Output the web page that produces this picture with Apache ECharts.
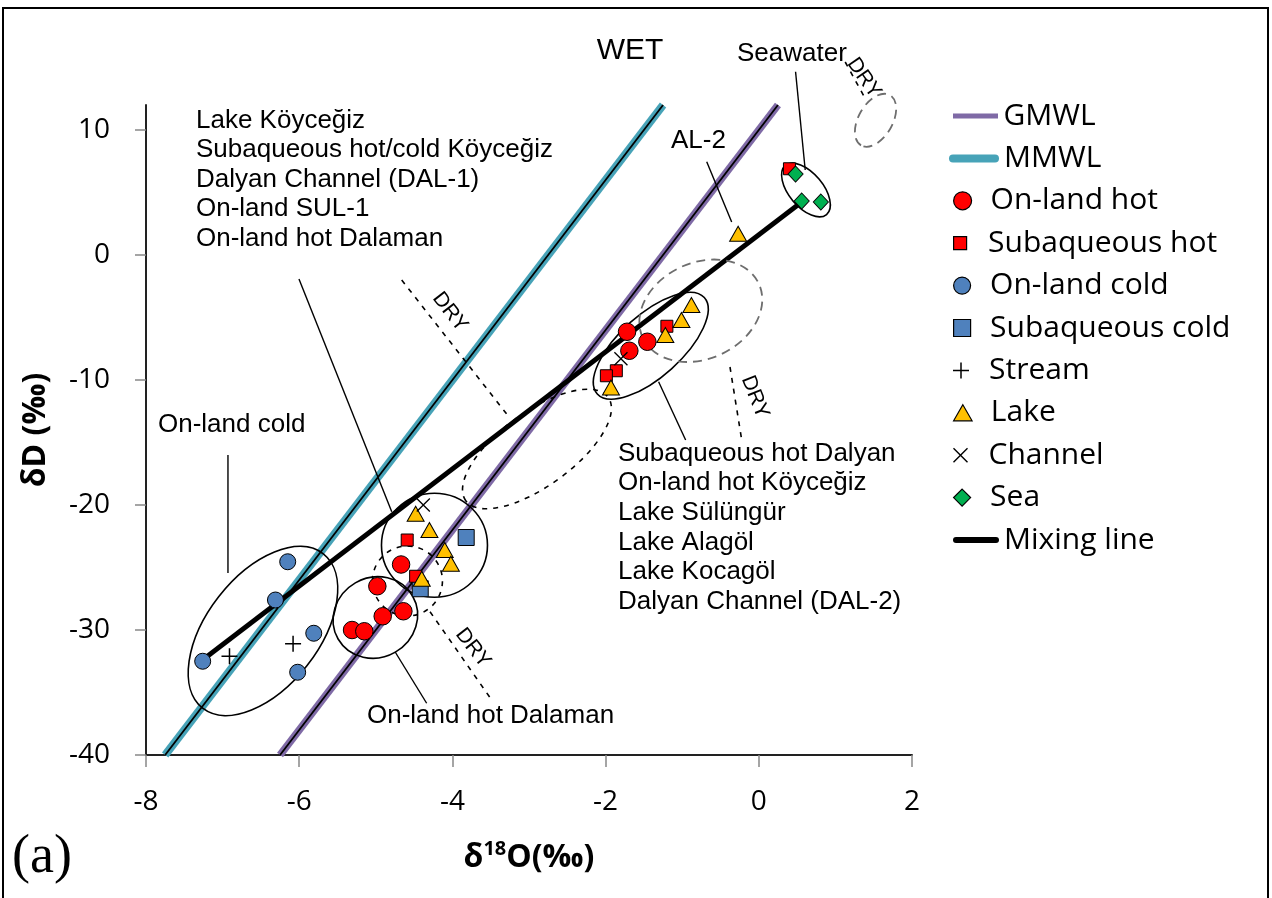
<!DOCTYPE html>
<html>
<head>
<meta charset="utf-8">
<script src="https://cdn.jsdelivr.net/npm/echarts@6/dist/echarts.min.js"></script>
<style>
  html, body { margin: 0; padding: 0; background: #fff; }
  #chart { width: 1272px; height: 898px; }
</style>
</head>
<body>
<div id="chart"></div>
<script>
// δ18O, δD (‰) of each water type
const onLandHot = [[-4.67, -24.76], [-4.98, -26.5], [-4.64, -28.5], [-4.91, -28.9], [-5.31, -30.0], [-5.15, -30.1],
                   [-1.72, -6.14], [-1.455, -6.94], [-1.69, -7.66]];
const subaqueousHot = [[-4.59, -22.8], [-4.48, -25.7], [-1.20, -5.7], [-1.86, -9.26], [-1.99, -9.66], [0.40, 6.9]];
const onLandCold = [[-6.15, -24.54], [-6.31, -27.6], [-5.81, -30.26], [-6.02, -33.38], [-7.26, -32.5]];
const subaqueousCold = [[-3.82, -22.6], [-4.42, -26.7]];
const stream = [[-6.91, -32.1], [-6.08, -31.1]];
const lake = [[-4.48, -20.7], [-4.30, -22.0], [-4.10, -23.6], [-4.02, -24.7], [-4.40, -25.9],
              [-0.88, -4.0], [-1.01, -5.2], [-1.22, -6.4], [-1.93, -10.6], [-0.27, 1.7]];
const channel = [[-4.38, -20.0], [-1.80, -8.3]];
const sea = [[0.48, 6.48], [0.56, 4.32], [0.81, 4.24]];

// Meteoric water lines (end points) and the mixing line
const gmwl = [[-6.25, -40], [0.25, 12]];    // δD = 8·δ18O + 10
const mmwl = [[-7.75, -40], [-1.25, 12]];   // δD = 8·δ18O + 22
const mixingLine = [[-7.22, -32.2], [0.53, 4.1]];

// Axis ticks
const xTicks = [-8, -6, -4, -2, 0, 2];
const yTicks = [-40, -30, -20, -10, 0, 10];

// Group outlines: centre in data units, radii in px, tilt in degrees
const groupOutlines = [
  { at: [-6.473, -30.08], rx: 98, ry: 56, tilt: 52, outline: 'solid' },
  { at: [-5.006, -29.0], rx: 43, ry: 40, tilt: 30, outline: 'solid' },
  { at: [-4.234, -23.22], rx: 53, ry: 52, tilt: 0, outline: 'solid' },
  { at: [-4.587, -26.08], rx: 35, ry: 35, tilt: 0, outline: 'dry' },
  { at: [-2.896, -15.52], rx: 88, ry: 37, tilt: 36, outline: 'dry' },
  { at: [-1.41, -7.26], rx: 72, ry: 31, tilt: 42, outline: 'solid' },
  { at: [-0.757, -4.46], rx: 64, ry: 48, tilt: 25, outline: 'drySea' },
  { at: [0.616, 5.2], rx: 32, ry: 17, tilt: -50, outline: 'solid' },
  { at: [1.524, 10.78], rx: 29, ry: 17, tilt: 60, outline: 'drySea' }
];
// Label leader lines and dry-season shift lines: [x1, y1, x2, y2] in data units
const leaderLines = [
  [-6.003, -1.92, -4.792, -20.54],
  [-6.93, -16.0, -6.93, -25.44],
  [-4.749, -31.74, -4.336, -35.86],
  [-1.308, -10.14, -0.955, -14.8],
  [-0.680, 7.46, -0.354, 2.64],
  [0.480, 14.66, 0.606, 6.8]
];
const dryLines = [
  [-4.662, -2.0, -3.248, -13.06],
  [-0.376, -8.96, -0.223, -14.8],
  [-4.292, -28.54, -3.487, -35.6],
  [1.128, 15.44, 1.40, 12.4]
];

const outlineStyles = {
  solid: { stroke: '#000', lineWidth: 1.6 },
  dry: { stroke: '#000', lineWidth: 1.6, lineDash: [5, 6] },
  drySea: { stroke: '#6e6e6e', lineWidth: 1.8, lineDash: [9, 6] }
};

const C = {
  gmwl: '#7F6AA6', mmwl: '#47A3B8', red: '#FF0000', blue: '#4F81BD',
  gold: '#FFC000', green: '#00B050', black: '#000'
};
const plusPath = 'path://M7.25,0h1.5v7.25h7.25v1.5h-7.25v7.25h-1.5v-7.25h-7.25v-1.5h7.25z';
const crossPath = 'path://M0,1.06L1.06,0L8,6.94L14.94,0L16,1.06L9.06,8L16,14.94L14.94,16L8,9.06L1.06,16L0,14.94L6.94,8Z';
const circlePath = 'path://M0,5A5,5 0 1 1 10,5A5,5 0 1 1 0,5Z';
const squarePath = 'path://M0,0H10V10H0Z';
const trianglePath = 'path://M5,0L10,8.66L0,8.66Z';
const diamondPath = 'path://M5,0L10,5L5,10L0,5Z';

const sansUI = '"Open Sans", "Noto Sans", sans-serif';
const sansText = '"Liberation Sans", Arial, sans-serif';

function markerSeries(name, data, symbol, size, color, border) {
  return {
    type: 'scatter', name, data, symbol, symbolSize: size, z: 5,
    itemStyle: { color, borderColor: '#000', borderWidth: border, opacity: 1 },
    emphasis: { disabled: true }
  };
}

function lineSeries(name, data, color, width, z) {
  return {
    type: 'line', name, data, z, symbol: 'none', silent: true, clip: true,
    lineStyle: { color, width, cap: 'butt' },
    emphasis: { disabled: true }
  };
}

function segmentSeries(name, data, style) {
  return {
    type: 'custom', name, data, z: 4, silent: true, clip: false,
    encode: { x: [0, 2], y: [1, 3] },
    renderItem(params, api) {
      const p1 = api.coord([api.value(0), api.value(1)]);
      const p2 = api.coord([api.value(2), api.value(3)]);
      return { type: 'line', shape: { x1: p1[0], y1: p1[1], x2: p2[0], y2: p2[1] }, style };
    }
  };
}

// Legend: one row per entry so each can keep its own key size
const legendRows = [
  { name: 'GMWL', icon: 'path://M0,0H45V5H0Z', w: 46, h: 5, color: C.gmwl, border: 0, left: 953 },
  { name: 'MMWL', icon: 'path://M4,0H46A4,4 0 0 1 46,8H4A4,4 0 0 1 4,0Z', w: 50, h: 8, color: C.mmwl, border: 0, left: 949 },
  { name: 'On-land hot', icon: circlePath, w: 46, h: 18, color: C.red, border: 1.2, left: 953 },
  { name: 'Subaqueous hot', icon: squarePath, w: 46, h: 13, color: C.red, border: 1.2, left: 953 },
  { name: 'On-land cold', icon: circlePath, w: 46, h: 17, color: C.blue, border: 1.2, left: 953 },
  { name: 'Subaqueous cold', icon: squarePath, w: 46, h: 17, color: C.blue, border: 1.2, left: 953 },
  { name: 'Stream', icon: plusPath, w: 46, h: 16, color: C.black, border: 0, left: 953 },
  { name: 'Lake', icon: trianglePath, w: 46, h: 16, color: C.gold, border: 1.2, left: 953 },
  { name: 'Channel', icon: crossPath, w: 46, h: 15, color: C.black, border: 0, left: 953 },
  { name: 'Sea', icon: diamondPath, w: 46, h: 17, color: C.green, border: 1.2, left: 953 },
  { name: 'Mixing line', icon: 'path://M3,0H43A3,3 0 0 1 43,6H3A3,3 0 0 1 3,0Z', w: 46, h: 6, color: C.black, border: 0, left: 953 }
];
const legendFirstRow = 116, legendStep = 42.4, legendLine = 34;

const chart = echarts.init(document.getElementById('chart'), null, { renderer: 'canvas' });

chart.setOption({
  animation: false,
  backgroundColor: '#fff',
  grid: { left: 146, right: 360, top: 105, bottom: 143, containLabel: false },
  xAxis: {
    type: 'value', min: -8, max: 2, interval: 2,
    axisLine: { show: true, onZero: false, lineStyle: { color: '#222', width: 2 } },
    axisTick: { show: true, length: 12, lineStyle: { color: '#888', width: 1.5 } },
    axisLabel: { color: '#000', fontFamily: sansUI, fontSize: 28, margin: 33,
                 customValues: xTicks },
    splitLine: { show: false },
    name: '{a|δ}{s|18}{a|O(‰)}',
    nameLocation: 'middle', nameGap: 84,
    nameTextStyle: {
      rich: {
        a: { fontFamily: sansUI, fontWeight: 'bold', fontSize: 32, lineHeight: 38, color: '#000' },
        s: { fontFamily: sansUI, fontWeight: 'bold', fontSize: 20, lineHeight: 26, color: '#000', verticalAlign: 'top' }
      }
    }
  },
  yAxis: {
    type: 'value', min: -40, max: 12,
    axisLine: { show: true, onZero: false, lineStyle: { color: '#222', width: 2 } },
    axisTick: { show: true, length: 11, lineStyle: { color: '#888', width: 1.5 }, customValues: yTicks },
    axisLabel: { color: '#000', fontFamily: sansUI, fontSize: 28, margin: 36, customValues: yTicks },
    splitLine: { show: false },
    name: 'δD (‰)', nameLocation: 'middle', nameGap: 92,
    nameTextStyle: { fontFamily: sansUI, fontWeight: 'bold', fontSize: 32, lineHeight: 36, color: '#000' }
  },
  legend: legendRows.map((r, i) => ({
    data: [{ name: r.name, icon: r.icon,
             itemStyle: { color: r.color, borderColor: '#000', borderWidth: r.border } }],
    left: r.left, top: legendFirstRow + i * legendStep - legendLine / 2,
    itemWidth: r.w, itemHeight: r.h, padding: 0,
    textStyle: { fontFamily: sansUI, fontSize: 30, color: '#000', lineHeight: legendLine }
  })),
  series: [
    lineSeries('MMWL', mmwl, C.mmwl, 8, 1),
    lineSeries('MMWL', mmwl, '#000', 1.8, 2),
    lineSeries('GMWL', gmwl, C.gmwl, 7.5, 1),
    lineSeries('GMWL', gmwl, '#000', 1.8, 2),
    lineSeries('Mixing line', mixingLine, '#000', 4.8, 3),
    {
      type: 'custom', name: 'outlines', z: 4, silent: true, clip: false,
      data: groupOutlines.map(g => g.at),
      renderItem(params, api) {
        const g = groupOutlines[params.dataIndex];
        const c = api.coord([api.value(0), api.value(1)]);
        return {
          type: 'ellipse', x: c[0], y: c[1], rotation: g.tilt * Math.PI / 180,
          shape: { cx: 0, cy: 0, rx: g.rx, ry: g.ry },
          style: Object.assign({ fill: 'none' }, outlineStyles[g.outline])
        };
      }
    },
    segmentSeries('leaders', leaderLines, { stroke: '#000', lineWidth: 1.4 }),
    segmentSeries('dry shift', dryLines, { stroke: '#000', lineWidth: 1.6, lineDash: [5, 6] }),
    markerSeries('On-land cold', onLandCold, 'circle', 16, C.blue, 1),
    markerSeries('Subaqueous cold', subaqueousCold, 'rect', 16, C.blue, 1),
    markerSeries('On-land hot', onLandHot, 'circle', 17.5, C.red, 1),
    markerSeries('Subaqueous hot', subaqueousHot, 'rect', 12, C.red, 1),
    markerSeries('Stream', stream, plusPath, 16, C.black, 0),
    markerSeries('Lake', lake, 'triangle', [17, 15], C.gold, 1),
    markerSeries('Channel', channel, crossPath, 14, C.black, 0),
    markerSeries('Sea', sea, 'diamond', [15, 16], C.green, 1)
  ],
  graphic: [
    { type: 'rect', silent: true, z: -10, shape: { x: 3, y: 8, width: 1265, height: 896 },
      style: { fill: 'none', stroke: '#000', lineWidth: 2 } },
    { type: 'text', x: 630, y: 51, style: { text: 'WET', font: `30px ${sansText}`, fill: '#000', align: 'center', verticalAlign: 'middle' } },
    { type: 'text', x: 196, y: 106, style: {
        text: 'Lake Köyceğiz\nSubaqueous hot/cold Köyceğiz\nDalyan Channel (DAL-1)\nOn-land SUL-1\nOn-land hot Dalaman',
        font: `26px ${sansText}`, lineHeight: 29.5, fill: '#000', align: 'left', verticalAlign: 'top' } },
    { type: 'text', x: 158, y: 425, style: { text: 'On-land cold', font: `26px ${sansText}`, fill: '#000', align: 'left', verticalAlign: 'middle' } },
    { type: 'text', x: 367, y: 716, style: { text: 'On-land hot Dalaman', font: `26px ${sansText}`, fill: '#000', align: 'left', verticalAlign: 'middle' } },
    { type: 'text', x: 618, y: 438.5, style: {
        text: 'Subaqueous hot Dalyan\nOn-land hot Köyceğiz\nLake Sülüngür\nLake Alagöl\nLake Kocagöl\nDalyan Channel (DAL-2)',
        font: `26px ${sansText}`, lineHeight: 29.7, fill: '#000', align: 'left', verticalAlign: 'top' } },
    { type: 'text', x: 671, y: 141, style: { text: 'AL-2', font: `26px ${sansText}`, fill: '#000', align: 'left', verticalAlign: 'middle' } },
    { type: 'text', x: 737, y: 54, style: { text: 'Seawater', font: `26px ${sansText}`, fill: '#000', align: 'left', verticalAlign: 'middle' } },
    { type: 'text', x: 450, y: 312, rotation: -52 * Math.PI / 180, style: { text: 'DRY', font: `21px ${sansText}`, fill: '#000', align: 'center', verticalAlign: 'middle' } },
    { type: 'text', x: 755, y: 397, rotation: -68 * Math.PI / 180, style: { text: 'DRY', font: `21px ${sansText}`, fill: '#000', align: 'center', verticalAlign: 'middle' } },
    { type: 'text', x: 473, y: 648, rotation: -52 * Math.PI / 180, style: { text: 'DRY', font: `21px ${sansText}`, fill: '#000', align: 'center', verticalAlign: 'middle' } },
    { type: 'text', x: 864, y: 78, rotation: -55 * Math.PI / 180, style: { text: 'DRY', font: `21px ${sansText}`, fill: '#000', align: 'center', verticalAlign: 'middle' } },
    { type: 'text', x: 12, y: 858, style: { text: '(a)', font: `54px "Liberation Serif", "Times New Roman", serif`, fill: '#000', align: 'left', verticalAlign: 'middle' } }
  ]
});
</script>
</body>
</html>
